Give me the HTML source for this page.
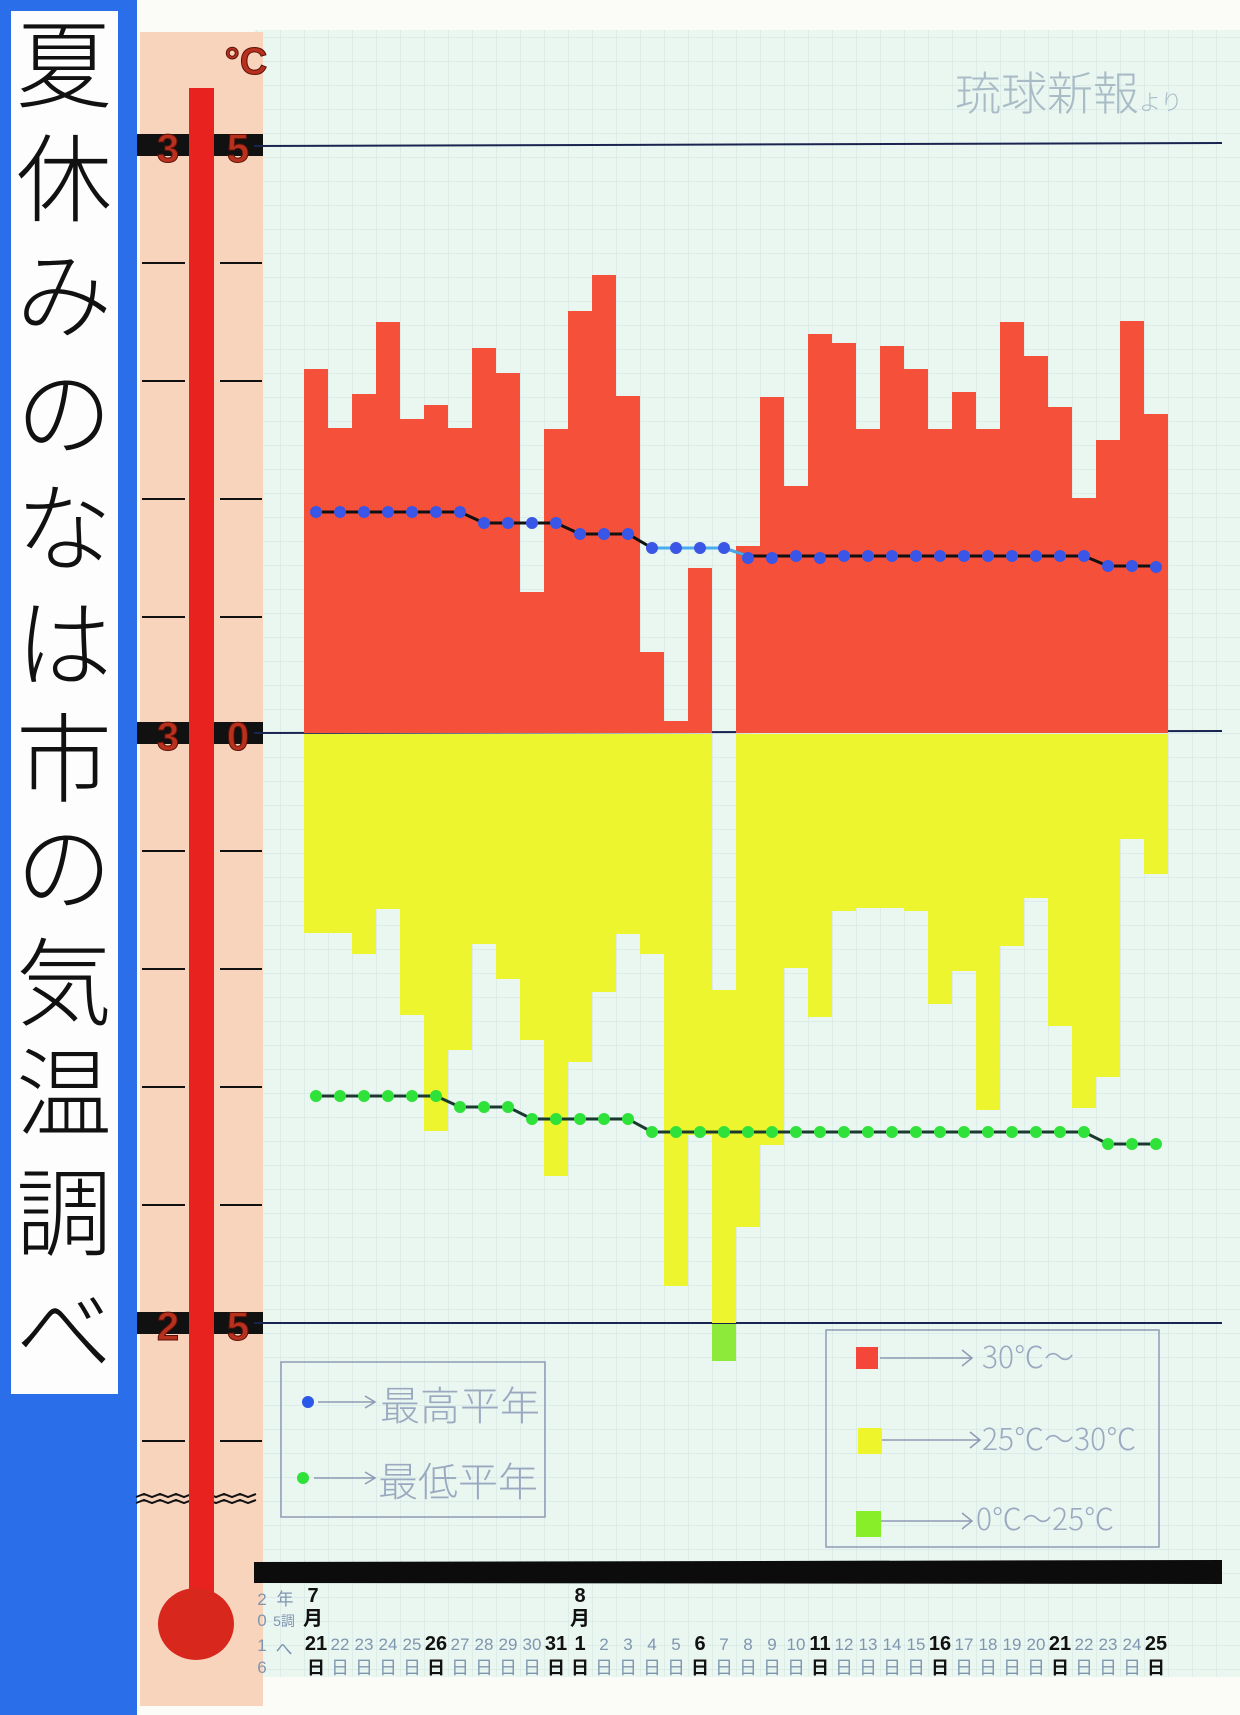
<!DOCTYPE html>
<html><head><meta charset="utf-8"><style>
html,body{margin:0;padding:0;background:#fff;}
svg{display:block;}
</style></head><body>
<svg width="1240" height="1715" viewBox="0 0 1240 1715" xmlns="http://www.w3.org/2000/svg" font-family="'Liberation Sans','Noto Sans CJK JP',sans-serif">
<defs>
<pattern id="g" width="24" height="24" patternUnits="userSpaceOnUse" x="304" y="13">
<path d="M0 0H24M0 0V24" stroke="#cfe2e2" stroke-width="1" fill="none"/>
</pattern>
</defs>
<rect width="1240" height="1715" fill="#fbfbf7"/>
<!-- paper -->
<rect x="254" y="30" width="986" height="1647" fill="#eaf6f0"/>
<rect x="254" y="30" width="986" height="1647" fill="url(#g)"/>
<!-- blue strip -->
<rect x="0" y="0" width="137" height="1715" fill="#2a6fe9"/>
<rect x="11" y="11" width="107" height="1383" fill="#fdfdfd"/>
<g font-size="96" fill="#111" text-anchor="middle" font-family="'Noto Sans CJK JP',sans-serif" font-weight="300">
<text x="64" y="100">夏</text><text x="64" y="214">休</text><text x="64" y="330">み</text><text x="64" y="448">の</text>
<text x="64" y="563">な</text><text x="64" y="679">は</text><text x="64" y="794">市</text><text x="64" y="903">の</text>
<text x="64" y="1018">気</text><text x="64" y="1128">温</text><text x="64" y="1248">調</text><text x="64" y="1366">べ</text>
</g>
<!-- thermometer -->
<rect x="140" y="32" width="123" height="1674" fill="#f8d4bc"/>
<g stroke="#111" stroke-width="2">
<path d="M142 263H185M220 263H262M142 381H185M220 381H262M142 499H185M220 499H262M142 617H185M220 617H262M142 851H185M220 851H262M142 969H185M220 969H262M142 1087H185M220 1087H262M142 1205H185M220 1205H262M142 1441H185M220 1441H262"/>
<path d="M136 1497l8-3 8 3 8-3 8 3 8-3 8 3 8-3 8 3 8-3 8 3 8-3 8 3 8-3 8 3 8-3 M136 1503l8-3 8 3 8-3 8 3 8-3 8 3 8-3 8 3 8-3 8 3 8-3 8 3 8-3 8 3 8-3" fill="none"/>
</g>
<rect x="137" y="134" width="126" height="22" fill="#111"/>
<rect x="137" y="722" width="126" height="22" fill="#111"/>
<rect x="137" y="1312" width="126" height="22" fill="#111"/>
<rect x="189" y="88" width="25" height="1540" fill="#e8231f"/>
<ellipse cx="196" cy="1624" rx="38" ry="36" fill="#d8281e"/>
<g font-size="40" font-weight="bold" fill="#b8301e" stroke="#5a1208" stroke-width="1" text-anchor="middle">
<text x="168" y="162">3</text><text x="238" y="162">5</text>
<text x="168" y="750">3</text><text x="238" y="750">0</text>
<text x="168" y="1340">2</text><text x="238" y="1340">5</text>
<text x="246" y="74" font-size="38">°C</text>
</g>
<!-- gridlines 35/30/25 -->
<g stroke="#1a2450" stroke-width="2">
<line x1="254" y1="146" x2="1222" y2="143"/>
<line x1="254" y1="733" x2="1222" y2="731"/>
<line x1="254" y1="1323" x2="1222" y2="1323"/>
</g>
<!-- red bars -->
<g fill="#f5503a">
<rect x="304" y="369" width="24" height="364"/><rect x="328" y="428" width="24" height="305"/><rect x="352" y="394" width="24" height="339"/><rect x="376" y="322" width="24" height="411"/><rect x="400" y="419" width="24" height="314"/><rect x="424" y="405" width="24" height="328"/><rect x="448" y="428" width="24" height="305"/><rect x="472" y="348" width="24" height="385"/><rect x="496" y="373" width="24" height="360"/><rect x="520" y="592" width="24" height="141"/><rect x="544" y="429" width="24" height="304"/><rect x="568" y="311" width="24" height="422"/><rect x="592" y="275" width="24" height="458"/><rect x="616" y="396" width="24" height="337"/><rect x="640" y="652" width="24" height="81"/><rect x="664" y="721" width="24" height="12"/><rect x="688" y="568" width="24" height="165"/>
<rect x="736" y="546" width="24" height="187"/><rect x="760" y="397" width="24" height="336"/><rect x="784" y="486" width="24" height="247"/><rect x="808" y="334" width="24" height="399"/><rect x="832" y="343" width="24" height="390"/><rect x="856" y="429" width="24" height="304"/><rect x="880" y="346" width="24" height="387"/><rect x="904" y="369" width="24" height="364"/><rect x="928" y="429" width="24" height="304"/><rect x="952" y="392" width="24" height="341"/><rect x="976" y="429" width="24" height="304"/><rect x="1000" y="322" width="24" height="411"/><rect x="1024" y="356" width="24" height="377"/><rect x="1048" y="407" width="24" height="326"/><rect x="1072" y="498" width="24" height="235"/><rect x="1096" y="440" width="24" height="293"/><rect x="1120" y="321" width="24" height="412"/><rect x="1144" y="414" width="24" height="319"/>
</g>
<!-- yellow bars -->
<g fill="#edf52f">
<rect x="304" y="734" width="24" height="199"/><rect x="328" y="734" width="24" height="199"/><rect x="352" y="734" width="24" height="220"/><rect x="376" y="734" width="24" height="175"/><rect x="400" y="734" width="24" height="281"/><rect x="424" y="734" width="24" height="397"/><rect x="448" y="734" width="24" height="316"/><rect x="472" y="734" width="24" height="210"/><rect x="496" y="734" width="24" height="245"/><rect x="520" y="734" width="24" height="306"/><rect x="544" y="734" width="24" height="442"/><rect x="568" y="734" width="24" height="328"/><rect x="592" y="734" width="24" height="258"/><rect x="616" y="734" width="24" height="200"/><rect x="640" y="734" width="24" height="220"/><rect x="664" y="734" width="24" height="552"/><rect x="688" y="734" width="24" height="401"/>
<rect x="712" y="990" width="24" height="333"/>
<rect x="736" y="734" width="24" height="493"/><rect x="760" y="734" width="24" height="411"/><rect x="784" y="734" width="24" height="234"/><rect x="808" y="734" width="24" height="283"/><rect x="832" y="734" width="24" height="177"/><rect x="856" y="734" width="24" height="174"/><rect x="880" y="734" width="24" height="174"/><rect x="904" y="734" width="24" height="177"/><rect x="928" y="734" width="24" height="270"/><rect x="952" y="734" width="24" height="237"/><rect x="976" y="734" width="24" height="376"/><rect x="1000" y="734" width="24" height="212"/><rect x="1024" y="734" width="24" height="164"/><rect x="1048" y="734" width="24" height="292"/><rect x="1072" y="734" width="24" height="374"/><rect x="1096" y="734" width="24" height="343"/><rect x="1120" y="734" width="24" height="105"/><rect x="1144" y="734" width="24" height="140"/>
</g>
<rect x="712" y="1324" width="24" height="37" fill="#8eea3a"/>
<!-- blue avg line -->
<polyline fill="none" stroke="#111" stroke-width="3" points="316,512 340,512 364,512 388,512 412,512 436,512 460,512 484,523 508,523 532,523 556,523 580,534 604,534 628,534 652,548 676,548 700,548 724,548 748,556 772,556 796,556 820,556 844,556 868,556 892,556 916,556 940,556 964,556 988,556 1012,556 1036,556 1060,556 1084,556 1108,566 1132,566 1156,566"/>
<polyline fill="none" stroke="#4aa8ee" stroke-width="3" points="652,548 676,548 700,548 724,548 748,556"/>
<g fill="#3a56e6">
<circle cx="316" cy="512" r="6"/><circle cx="340" cy="512" r="6"/><circle cx="364" cy="512" r="6"/><circle cx="388" cy="512" r="6"/><circle cx="412" cy="512" r="6"/><circle cx="436" cy="512" r="6"/><circle cx="460" cy="512" r="6"/><circle cx="484" cy="523" r="6"/><circle cx="508" cy="523" r="6"/><circle cx="532" cy="523" r="6"/><circle cx="556" cy="523" r="6"/><circle cx="580" cy="534" r="6"/><circle cx="604" cy="534" r="6"/><circle cx="628" cy="534" r="6"/><circle cx="652" cy="548" r="6"/><circle cx="676" cy="548" r="6"/><circle cx="700" cy="548" r="6"/><circle cx="724" cy="548" r="6"/><circle cx="748" cy="558" r="6"/><circle cx="772" cy="558" r="6"/><circle cx="796" cy="556" r="6"/><circle cx="820" cy="558" r="6"/><circle cx="844" cy="556" r="6"/><circle cx="868" cy="556" r="6"/><circle cx="892" cy="556" r="6"/><circle cx="916" cy="556" r="6"/><circle cx="940" cy="556" r="6"/><circle cx="964" cy="556" r="6"/><circle cx="988" cy="556" r="6"/><circle cx="1012" cy="556" r="6"/><circle cx="1036" cy="556" r="6"/><circle cx="1060" cy="556" r="6"/><circle cx="1084" cy="556" r="6"/><circle cx="1108" cy="566" r="6"/><circle cx="1132" cy="566" r="6"/><circle cx="1156" cy="567" r="6"/>
</g>
<!-- green avg line -->
<polyline fill="none" stroke="#1a3a30" stroke-width="3" points="316,1096 340,1096 364,1096 388,1096 412,1096 436,1096 460,1107 484,1107 508,1107 532,1119 556,1119 580,1119 604,1119 628,1119 652,1132 676,1132 700,1132 724,1132 748,1132 772,1132 796,1132 820,1132 844,1132 868,1132 892,1132 916,1132 940,1132 964,1132 988,1132 1012,1132 1036,1132 1060,1132 1084,1132 1108,1144 1132,1144 1156,1144"/>
<g fill="#2ee23a">
<circle cx="316" cy="1096" r="6"/><circle cx="340" cy="1096" r="6"/><circle cx="364" cy="1096" r="6"/><circle cx="388" cy="1096" r="6"/><circle cx="412" cy="1096" r="6"/><circle cx="436" cy="1096" r="6"/><circle cx="460" cy="1107" r="6"/><circle cx="484" cy="1107" r="6"/><circle cx="508" cy="1107" r="6"/><circle cx="532" cy="1119" r="6"/><circle cx="556" cy="1119" r="6"/><circle cx="580" cy="1119" r="6"/><circle cx="604" cy="1119" r="6"/><circle cx="628" cy="1119" r="6"/><circle cx="652" cy="1132" r="6"/><circle cx="676" cy="1132" r="6"/><circle cx="700" cy="1132" r="6"/><circle cx="724" cy="1132" r="6"/><circle cx="748" cy="1132" r="6"/><circle cx="772" cy="1132" r="6"/><circle cx="796" cy="1132" r="6"/><circle cx="820" cy="1132" r="6"/><circle cx="844" cy="1132" r="6"/><circle cx="868" cy="1132" r="6"/><circle cx="892" cy="1132" r="6"/><circle cx="916" cy="1132" r="6"/><circle cx="940" cy="1132" r="6"/><circle cx="964" cy="1132" r="6"/><circle cx="988" cy="1132" r="6"/><circle cx="1012" cy="1132" r="6"/><circle cx="1036" cy="1132" r="6"/><circle cx="1060" cy="1132" r="6"/><circle cx="1084" cy="1132" r="6"/><circle cx="1108" cy="1144" r="6"/><circle cx="1132" cy="1144" r="6"/><circle cx="1156" cy="1144" r="6"/>
</g>
<!-- source -->
<text x="955" y="110" font-size="46" fill="#a9bcc6" font-family="'Noto Sans CJK JP',sans-serif" font-weight="300">琉球新報<tspan font-size="22">より</tspan></text>
<!-- left legend -->
<g stroke="#8d9cb4" stroke-width="1.5" fill="none">
<rect x="281" y="1362" width="264" height="155"/>
<path d="M318 1402H375M365 1396l10 6-10 6M314 1478H375M365 1472l10 6-10 6"/>
<rect x="826" y="1330" width="333" height="217"/>
<path d="M880 1358H972M962 1350l10 8-10 8M882 1440H980M970 1432l10 8-10 8M880 1521H972M962 1513l10 8-10 8"/>
</g>
<circle cx="308" cy="1402" r="6" fill="#2a58e8"/>
<circle cx="303" cy="1478" r="6" fill="#2ee23a"/>
<g fill="#9aa9c0" font-family="'Noto Sans CJK JP',sans-serif" font-weight="300">
<text x="380" y="1420" font-size="40">最高平年</text>
<text x="378" y="1496" font-size="40">最低平年</text>
<text x="982" y="1368" font-size="30">30℃〜</text>
<text x="982" y="1450" font-size="30">25℃〜30℃</text>
<text x="976" y="1530" font-size="30">0℃〜25℃</text>
</g>
<rect x="856" y="1347" width="22" height="22" fill="#f5463a"/>
<rect x="858" y="1428" width="24" height="26" fill="#eef52a"/>
<rect x="856" y="1511" width="25" height="26" fill="#88ee2a"/>
<!-- black bar -->
<polygon points="254,1562 1222,1560 1222,1584 254,1583" fill="#0c0c0c"/>
<!-- date labels -->
<g font-size="17" fill="#7f96b0" text-anchor="middle">
<text x="262" y="1605">2</text><text x="285" y="1605">年</text>
<text x="262" y="1626">0</text><text x="284" y="1626" font-size="14">5調</text>
<text x="262" y="1651">1</text><text x="284" y="1655">へ</text>
<text x="262" y="1673">6</text>
</g>
<g font-size="20" font-weight="bold" fill="#111" text-anchor="middle" font-family="'Liberation Sans','Noto Sans CJK JP',sans-serif">
<text x="313" y="1602">7</text><text x="313" y="1625">月</text>
<text x="580" y="1602">8</text><text x="580" y="1625">月</text>
</g>
<g font-size="17" text-anchor="middle" fill="#7f96b0" font-family="'Liberation Sans','Noto Sans CJK JP',sans-serif">
<text x="316" y="1650" fill="#111" font-weight="bold" font-size="20">21</text>
<text x="340" y="1650">22</text><text x="364" y="1650">23</text><text x="388" y="1650">24</text><text x="412" y="1650">25</text>
<text x="436" y="1650" fill="#111" font-weight="bold" font-size="20">26</text>
<text x="460" y="1650">27</text><text x="484" y="1650">28</text><text x="508" y="1650">29</text><text x="532" y="1650">30</text>
<text x="556" y="1650" fill="#111" font-weight="bold" font-size="20">31</text>
<text x="580" y="1650" fill="#111" font-weight="bold" font-size="20">1</text>
<text x="604" y="1650">2</text><text x="628" y="1650">3</text><text x="652" y="1650">4</text><text x="676" y="1650">5</text>
<text x="700" y="1650" fill="#111" font-weight="bold" font-size="20">6</text>
<text x="724" y="1650">7</text><text x="748" y="1650">8</text><text x="772" y="1650">9</text><text x="796" y="1650">10</text>
<text x="820" y="1650" fill="#111" font-weight="bold" font-size="20">11</text>
<text x="844" y="1650">12</text><text x="868" y="1650">13</text><text x="892" y="1650">14</text><text x="916" y="1650">15</text>
<text x="940" y="1650" fill="#111" font-weight="bold" font-size="20">16</text>
<text x="964" y="1650">17</text><text x="988" y="1650">18</text><text x="1012" y="1650">19</text><text x="1036" y="1650">20</text>
<text x="1060" y="1650" fill="#111" font-weight="bold" font-size="20">21</text>
<text x="1084" y="1650">22</text><text x="1108" y="1650">23</text><text x="1132" y="1650">24</text>
<text x="1156" y="1650" fill="#111" font-weight="bold" font-size="20">25</text>
</g>
<g font-size="18" text-anchor="middle" fill="#7f96b0" font-family="'Noto Sans CJK JP',sans-serif">
<text x="316" y="1674" fill="#111" font-weight="bold">日</text><text x="340" y="1674">日</text><text x="364" y="1674">日</text><text x="388" y="1674">日</text><text x="412" y="1674">日</text>
<text x="436" y="1674" fill="#111" font-weight="bold">日</text><text x="460" y="1674">日</text><text x="484" y="1674">日</text><text x="508" y="1674">日</text><text x="532" y="1674">日</text>
<text x="556" y="1674" fill="#111" font-weight="bold">日</text><text x="580" y="1674" fill="#111" font-weight="bold">日</text>
<text x="604" y="1674">日</text><text x="628" y="1674">日</text><text x="652" y="1674">日</text><text x="676" y="1674">日</text>
<text x="700" y="1674" fill="#111" font-weight="bold">日</text><text x="724" y="1674">日</text><text x="748" y="1674">日</text><text x="772" y="1674">日</text><text x="796" y="1674">日</text>
<text x="820" y="1674" fill="#111" font-weight="bold">日</text><text x="844" y="1674">日</text><text x="868" y="1674">日</text><text x="892" y="1674">日</text><text x="916" y="1674">日</text>
<text x="940" y="1674" fill="#111" font-weight="bold">日</text><text x="964" y="1674">日</text><text x="988" y="1674">日</text><text x="1012" y="1674">日</text><text x="1036" y="1674">日</text>
<text x="1060" y="1674" fill="#111" font-weight="bold">日</text><text x="1084" y="1674">日</text><text x="1108" y="1674">日</text><text x="1132" y="1674">日</text>
<text x="1156" y="1674" fill="#111" font-weight="bold">日</text>
</g>
</svg>
</body></html>
